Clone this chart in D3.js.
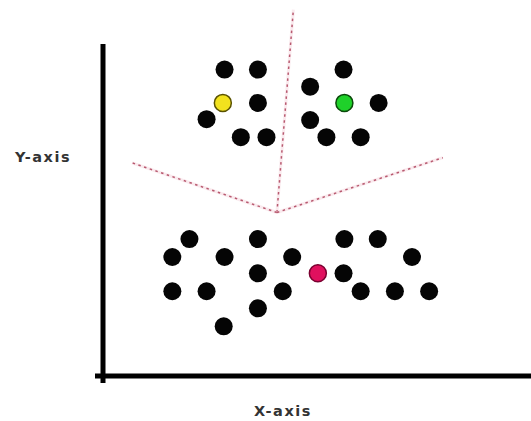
<!DOCTYPE html>
<html>
<head>
<meta charset="utf-8">
<script src="https://cdn.jsdelivr.net/npm/d3@7"></script>
<style>
  html, body { margin: 0; padding: 0; background: #fff; }
  svg { display: block; }
</style>
</head>
<body>
<script>
// --- data (chart units) ---
const clusterAx = [7.1, 9.05, 14.05, 12.1, 9.05, 16.1, 6.05, 12.1, 8.05, 9.55, 13.05, 15.05];
const clusterAy = [17.9, 17.9, 17.9, 16.9, 15.95, 15.95, 15.0, 14.95, 13.95, 13.95, 13.95, 13.95];
const clusterBx = [5.05, 9.05, 14.1, 16.05, 4.05, 7.1, 11.05, 18.05, 9.05, 14.05, 4.05, 6.05, 10.5, 15.05, 17.05, 19.05, 9.05, 7.05];
const clusterBy = [8.0, 8.0, 8.0, 8.0, 6.95, 6.95, 6.95, 6.95, 6.0, 6.0, 4.95, 4.95, 4.95, 4.95, 4.95, 4.95, 3.95, 2.9];
const centroidNames = ["yellow", "green", "pink"];
const centroidX = [7.0, 14.1, 12.55];
const centroidY = [15.95, 15.95, 6.0];
const centroidFill = ["#f2e21e", "#1fd12a", "#e0105e"];
const centroidStroke = ["#5a5200", "#0a4a0a", "#7a0030"];
// decision boundaries (meeting point + ends)
const boundaryHub = [10.16, 9.55];
const boundaryEndsX = [11.12, 1.7, 19.85];
const boundaryEndsY = [21.4, 12.45, 12.75];
const axisLabels = ["X-axis", "Y-axis"];

const W = 531, H = 421;
const svg = d3.select("body").append("svg").attr("width", W).attr("height", H);

const x = d3.scaleLinear().domain([0, 25]).range([103, 531]);
const y = d3.scaleLinear().domain([0, 19.39]).range([376, 44]);

// boundaries
const bg = svg.append("g");
boundaryEndsX.forEach((ex, i) => {
  bg.append("line")
    .attr("x1", x(boundaryHub[0])).attr("y1", y(boundaryHub[1]))
    .attr("x2", x(ex)).attr("y2", y(boundaryEndsY[i]))
    .attr("stroke", "#f6d6de").attr("stroke-width", 3).attr("stroke-opacity", 0.5);
  bg.append("line")
    .attr("x1", x(boundaryHub[0])).attr("y1", y(boundaryHub[1]))
    .attr("x2", x(ex)).attr("y2", y(boundaryEndsY[i]))
    .attr("stroke", "#b85a70").attr("stroke-width", 1.5)
    .attr("stroke-dasharray", "2.5,3.5");
});

// axes
const ax = svg.append("g");
ax.append("line").attr("x1", x(0)).attr("x2", x(0)).attr("y1", y(19.39)).attr("y2", 383)
  .attr("stroke", "#000").attr("stroke-width", 5);
ax.append("line").attr("x1", 95).attr("x2", x(25)).attr("y1", y(0)).attr("y2", y(0))
  .attr("stroke", "#000").attr("stroke-width", 5);

// points
const pts = [];
clusterAx.forEach((v, i) => pts.push([v, clusterAy[i]]));
clusterBx.forEach((v, i) => pts.push([v, clusterBy[i]]));
svg.append("g").selectAll("circle").data(pts).join("circle")
  .attr("cx", d => x(d[0])).attr("cy", d => y(d[1])).attr("r", 9)
  .attr("fill", "#050505");

svg.append("g").selectAll("circle").data(centroidNames).join("circle")
  .attr("cx", (d, i) => x(centroidX[i])).attr("cy", (d, i) => y(centroidY[i]))
  .attr("r", 8.5)
  .attr("fill", (d, i) => centroidFill[i])
  .attr("stroke", (d, i) => centroidStroke[i]).attr("stroke-width", 1.5);

// labels
svg.append("text").attr("x", 283).attr("y", 416).attr("text-anchor", "middle")
  .attr("font-family", "DejaVu Sans, sans-serif").attr("font-weight", "bold")
  .attr("font-size", 14.5).attr("letter-spacing", 1.5).attr("fill", "#333").text(axisLabels[0]);
svg.append("text").attr("x", 43).attr("y", 162).attr("text-anchor", "middle")
  .attr("font-family", "DejaVu Sans, sans-serif").attr("font-weight", "bold")
  .attr("font-size", 14.5).attr("letter-spacing", 1.5).attr("fill", "#333").text(axisLabels[1]);
</script>
</body>
</html>
